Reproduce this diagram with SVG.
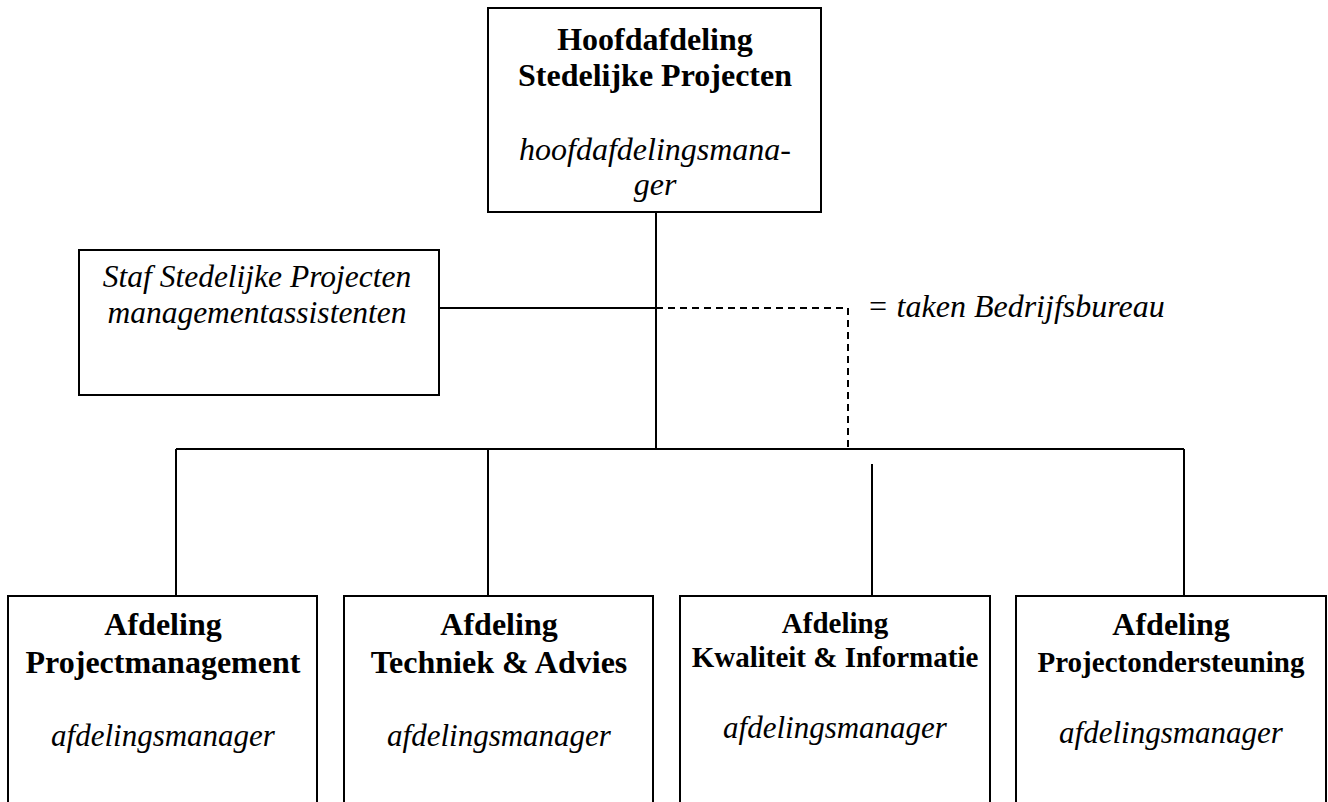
<svg xmlns="http://www.w3.org/2000/svg" width="1328" height="802" viewBox="0 0 1328 802">
<style>
.box{fill:#fff;stroke:#000;stroke-width:2}
.ln{fill:none;stroke:#000;stroke-width:2}
.dash{fill:none;stroke:#000;stroke-width:2;stroke-dasharray:7 5}
text{font-family:"Liberation Serif","Times New Roman",serif;fill:#000;text-anchor:middle}
.b{font-weight:bold;font-size:32px}
.i{font-style:italic;font-size:32px}
</style>
<rect width="1328" height="802" fill="#fff"/>
<g id="connectors">
<line class="ln" x1="656" y1="212" x2="656" y2="449"/>
<line class="ln" x1="439" y1="308" x2="656" y2="308"/>
<polyline class="dash" points="656,308 848,308 848,449"/>
<line class="ln" x1="176" y1="449" x2="1184" y2="449"/>
<line class="ln" x1="176" y1="449" x2="176" y2="596"/>
<line class="ln" x1="488" y1="449" x2="488" y2="596"/>
<line class="ln" x1="872" y1="464" x2="872" y2="596"/>
<line class="ln" x1="1184" y1="449" x2="1184" y2="596"/>
</g>
<g id="hoofdafdeling">
<rect class="box" x="488" y="8" width="333" height="204"/>
<text class="b" x="655" y="50">Hoofdafdeling</text>
<text class="b" x="655" y="86">Stedelijke Projecten</text>
<text class="i" x="655" y="160">hoofdafdelingsmana-</text>
<text class="i" x="655" y="195">ger</text>
</g>
<g id="staf">
<rect class="box" x="79" y="250" width="360" height="145"/>
<text class="i" x="257" y="287" style="font-size:31.5px">Staf Stedelijke Projecten</text>
<text class="i" x="257" y="323" style="font-size:31.5px">managementassistenten</text>
</g>
<g id="legend">
<text class="i" x="867" y="317" style="text-anchor:start">= taken Bedrijfsbureau</text>
</g>
<g id="projectmanagement">
<rect class="box" x="8" y="596" width="309" height="220"/>
<text class="b" x="163" y="635">Afdeling</text>
<text class="b" x="163" y="673">Projectmanagement</text>
<text class="i" x="163" y="746" style="font-size:31px">afdelingsmanager</text>
</g>
<g id="techniek">
<rect class="box" x="344" y="596" width="309" height="220"/>
<text class="b" x="499" y="635">Afdeling</text>
<text class="b" x="499" y="673">Techniek &amp; Advies</text>
<text class="i" x="499" y="746" style="font-size:31px">afdelingsmanager</text>
</g>
<g id="kwaliteit">
<rect class="box" x="680" y="596" width="310" height="220"/>
<text class="b" x="835" y="633" style="font-size:29px">Afdeling</text>
<text class="b" x="835" y="667" style="font-size:29px">Kwaliteit &amp; Informatie</text>
<text class="i" x="835" y="738" style="font-size:31px">afdelingsmanager</text>
</g>
<g id="projectondersteuning">
<rect class="box" x="1016" y="596" width="310" height="220"/>
<text class="b" x="1171" y="635">Afdeling</text>
<text class="b" x="1171" y="672" style="font-size:29px">Projectondersteuning</text>
<text class="i" x="1171" y="743" style="font-size:31px">afdelingsmanager</text>
</g>
</svg>
